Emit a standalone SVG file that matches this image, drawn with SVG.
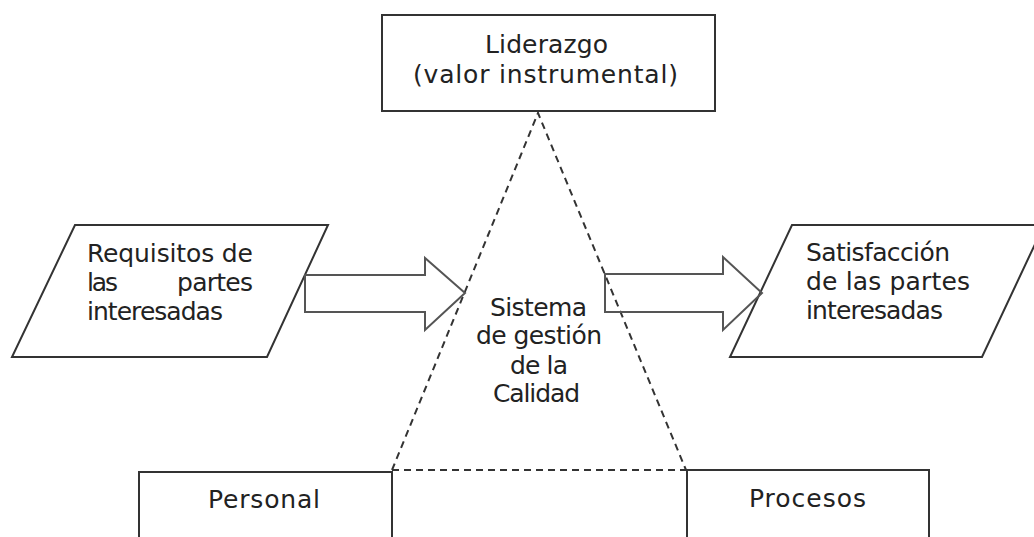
<svg xmlns="http://www.w3.org/2000/svg" width="1034" height="537" viewBox="0 0 1034 537">
<style>
.box{fill:#fff;stroke:#333;stroke-width:2}
.arrow{fill:none;stroke:#555;stroke-width:2;stroke-linejoin:miter}
.dash{fill:none;stroke:#333;stroke-width:2;stroke-dasharray:7,5}
text{font-family:"DejaVu Sans","Verdana",sans-serif;font-size:25px;fill:#222}
</style>
<rect width="1034" height="537" fill="#fff"/>
<g id="liderazgo">
<rect class="box" x="382" y="15" width="333" height="96"/>
<text x="485" y="53" textLength="123" lengthAdjust="spacing">Liderazgo</text>
<text x="413" y="83" textLength="265" lengthAdjust="spacing">(valor instrumental)</text>
</g>
<g id="requisitos">
<polygon class="box" points="75,225 328,225 267,357 12,357"/>
<text x="87" y="262" textLength="166" lengthAdjust="spacing">Requisitos de</text>
<text x="87" y="291" textLength="31" lengthAdjust="spacing">las</text>
<text x="177" y="291" textLength="76" lengthAdjust="spacing">partes</text>
<text x="87" y="320" textLength="136" lengthAdjust="spacing">interesadas</text>
</g>
<g id="satisfaccion">
<polygon class="box" points="792,225 1044,225 982,357 730,357"/>
<text x="806" y="261" textLength="144" lengthAdjust="spacing">Satisfacción</text>
<text x="806" y="290" textLength="164" lengthAdjust="spacing">de las partes</text>
<text x="806" y="319" textLength="137" lengthAdjust="spacing">interesadas</text>
</g>
<g id="personal">
<rect class="box" x="139" y="472" width="253" height="80"/>
<text x="208" y="508" textLength="112" lengthAdjust="spacing">Personal</text>
</g>
<g id="procesos">
<rect class="box" x="687" y="470" width="242" height="80"/>
<text x="749" y="507" textLength="117" lengthAdjust="spacing">Procesos</text>
</g>
<g id="sistema">
<text x="490" y="316" textLength="97" lengthAdjust="spacing">Sistema</text>
<text x="476" y="344" textLength="126" lengthAdjust="spacing">de gestión</text>
<text x="510" y="374" textLength="58" lengthAdjust="spacing">de la</text>
<text x="493" y="402" textLength="87" lengthAdjust="spacing">Calidad</text>
</g>
<g id="connectors">
<polyline class="dash" points="392,470 538,113 686,470"/>
<line class="dash" x1="392" y1="470" x2="686" y2="470"/>
<polygon class="arrow" points="305,275 425,275 425,258 465,293 425,330 425,312 305,312"/>
<polygon class="arrow" points="605,274 723,274 723,257 762,293 723,330 723,312 605,312"/>
</g>
</svg>
